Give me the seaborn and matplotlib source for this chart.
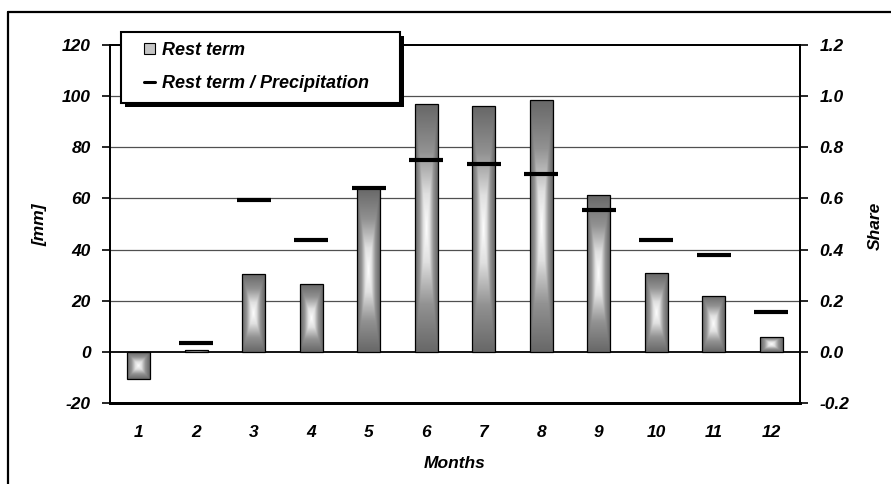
import numpy as np
import pandas as pd
import matplotlib
matplotlib.use("Agg")
import matplotlib.pyplot as plt
import seaborn as sns
from matplotlib.patches import Patch, Rectangle
from matplotlib.lines import Line2D
from matplotlib.colors import LinearSegmentedColormap

months = ["1", "2", "3", "4", "5", "6", "7", "8", "9", "10", "11", "12"]
rest_term = [-10.5, 0.6, 30.5, 26.5, 64.0, 96.8, 96.2, 98.3, 61.3, 30.8, 22.0, 6.0]
share = [np.nan, 0.035, 0.595, 0.437, 0.64, 0.75, 0.735, 0.694, 0.555, 0.437, 0.38, 0.157]
left_ticks = [-20, 0, 20, 40, 60, 80, 100, 120]
right_ticks = [-0.2, 0.0, 0.2, 0.4, 0.6, 0.8, 1.0, 1.2]

sns.set_theme(style="white")
plt.rcParams["font.family"] = ["Liberation Sans", "DejaVu Sans"]
plt.rcParams["font.weight"] = "bold"
plt.rcParams["font.style"] = "italic"
for k in ["text.color", "axes.labelcolor", "xtick.color", "ytick.color"]:
    plt.rcParams[k] = "black"

FS = 12.5
W, H = 891, 484
fig = plt.figure(figsize=(W / 100, H / 100), dpi=100)
ax = fig.add_axes([110 / W, 1 - 403 / H, 690 / W, 358 / H])

df = pd.DataFrame({"month": months, "rest": rest_term})
sns.barplot(data=df, x="month", y="rest", ax=ax, order=months, width=0.4,
            color="#999999", saturation=1, edgecolor="black", linewidth=0.9, zorder=3)

# gradient fill clipped to each bar
cmap = LinearSegmentedColormap.from_list("g", ["#ffffff", "#e0e0e0", "#929292", "#686868"])
uu, vv = np.meshgrid(np.linspace(-1, 1, 60), np.linspace(-1, 1, 200))
grad = np.maximum(np.abs(uu), np.abs(vv)) ** 0.85
for p in ax.patches:
    x0, y0 = p.get_x(), p.get_y()
    w, h = p.get_width(), p.get_height()
    if h == 0:
        continue
    ylo, yhi = min(y0, y0 + h), max(y0, y0 + h)
    im = ax.imshow(grad, extent=[x0, x0 + w, ylo, yhi], cmap=cmap, aspect="auto",
                   origin="lower", zorder=3.5, vmin=0, vmax=1, interpolation="bilinear")
    im.set_clip_path(p)
    p.set_facecolor("none")
    p.set_zorder(4)

ax.set_xlim(-0.5, len(months) - 0.5)
ax.set_ylim(-20, 120)
ax.set_yticks(left_ticks)
ax.set_yticklabels([str(t) for t in left_ticks])
for t in left_ticks[2:-1]:
    ax.axhline(t, color="#505050", lw=0.9, zorder=1)
ax.axhline(0, color="black", lw=1.3, zorder=2)
ax.set_xlabel("Months", fontsize=FS, fontweight="bold", fontstyle="italic", labelpad=11,
              color="black")
ax.set_ylabel("")
ax.tick_params(axis="y", which="both", left=True, length=6, width=1.2, direction="out",
               labelsize=FS, pad=8, colors="black")
ax.tick_params(axis="x", bottom=False, labelsize=FS, pad=10, colors="black")
for s in ax.spines.values():
    s.set_color("black")
    s.set_linewidth(1.3)
ax.spines["bottom"].set_linewidth(2)

ax2 = ax.twinx()
sns.lineplot(x=np.arange(len(months)), y=share, ax=ax2, color="black", linestyle="",
             marker="_", markersize=24, markeredgewidth=3, markeredgecolor="black",
             markerfacecolor="black", zorder=5)
ax2.set_ylim(-0.2, 1.2)
ax2.set_yticks(right_ticks)
ax2.set_yticklabels([f"{t:.1f}" for t in right_ticks])
ax2.tick_params(axis="y", right=True, length=6, width=1.2, direction="out",
                labelsize=FS, pad=8, colors="black")
ax2.set_ylabel("")
ax2.set_xlim(-0.5, len(months) - 0.5)
for s in ax2.spines.values():
    s.set_color("black")
    s.set_linewidth(1.3)
ax2.spines["bottom"].set_linewidth(2)

fig.text(40 / W, 1 - 225 / H, "[mm]", rotation=90, ha="center", va="center", fontsize=FS,
         color="black")
fig.text(875 / W, 1 - 226 / H, "Share", rotation=90, ha="center", va="center", fontsize=FS,
         color="black")

# legend box with shadow
lx0, ly0, lx1, ly1 = 121, 32, 400, 103
shadow = Rectangle(((lx0 + 4) / W, 1 - (ly1 + 4) / H), (lx1 - lx0) / W, (ly1 - ly0) / H,
                   transform=fig.transFigure, facecolor="black", edgecolor="none", zorder=20)
box = Rectangle((lx0 / W, 1 - ly1 / H), (lx1 - lx0) / W, (ly1 - ly0) / H,
                transform=fig.transFigure, facecolor="white", edgecolor="black", lw=1.5, zorder=21)
fig.add_artist(shadow)
fig.add_artist(box)

handles = [Patch(facecolor="#c4c4c4", edgecolor="black", lw=0.8),
           Line2D([], [], color="black", lw=2.2)]
leg = fig.legend(handles, ["Rest term", "Rest term / Precipitation"], loc="upper left",
                 bbox_to_anchor=(144 / W, 1 - 42 / H), bbox_transform=fig.transFigure,
                 borderaxespad=0, fontsize=13, frameon=False, labelcolor="black",
                 handlelength=0.6, handleheight=0.6, handletextpad=0.4,
                 labelspacing=0.9, borderpad=0)
leg.set_zorder(22)

fig.add_artist(Line2D([8 / W, 8 / W], [-0.1, 1 - 12 / H], transform=fig.transFigure,
                      color="black", lw=1.6))
fig.add_artist(Line2D([8 / W, 1.1], [1 - 12 / H, 1 - 12 / H], transform=fig.transFigure,
                      color="black", lw=1.6))

fig.savefig("out.png", dpi=100)
